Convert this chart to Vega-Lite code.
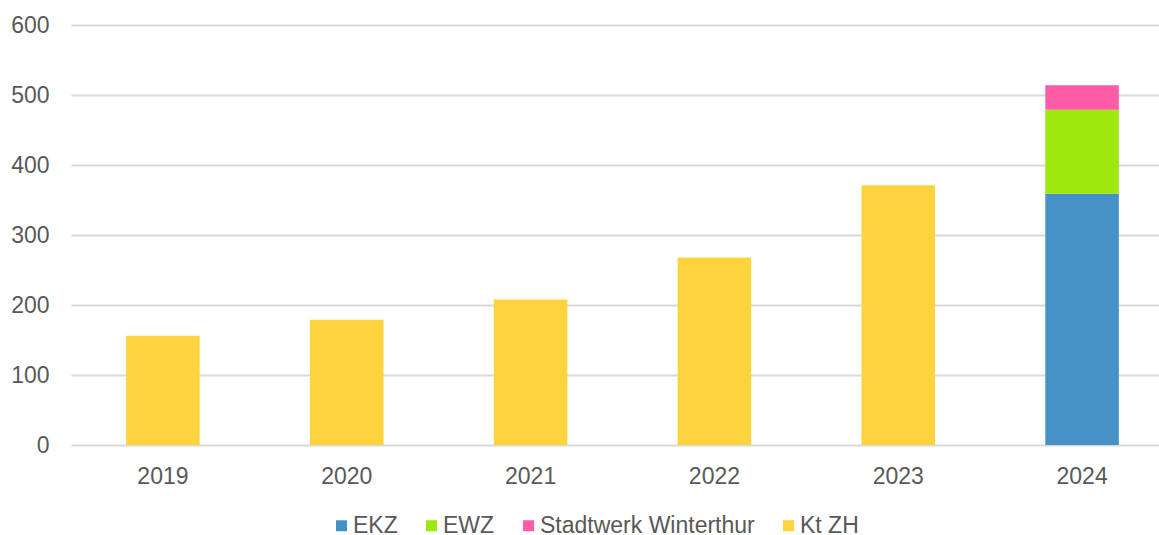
{
  "$schema": "https://vega.github.io/schema/vega-lite/v6.json",
  "width": 1088,
  "height": 420,
  "autosize": {"type": "none"},
  "padding": {"left": 71, "top": 25, "right": 0, "bottom": 90},
  "background": "white",
  "config": {
    "view": {"stroke": null},
    "font": "Liberation Sans"
  },
  "data": {
    "values": [
      {"year": "2019", "provider": "Kt ZH", "value": 156},
      {"year": "2020", "provider": "Kt ZH", "value": 179},
      {"year": "2021", "provider": "Kt ZH", "value": 208},
      {"year": "2022", "provider": "Kt ZH", "value": 268},
      {"year": "2023", "provider": "Kt ZH", "value": 371},
      {"year": "2024", "provider": "EKZ", "value": 359},
      {"year": "2024", "provider": "EWZ", "value": 120},
      {"year": "2024", "provider": "Stadtwerk Winterthur", "value": 35}
    ]
  },
  "mark": {"type": "bar"},
  "encoding": {
    "x": {
      "field": "year",
      "type": "ordinal",
      "title": null,
      "scale": {"range": [0, 1103], "paddingInner": 0.6, "paddingOuter": 0.3},
      "axis": {
        "labelAngle": 0,
        "labelFontSize": 23,
        "labelColor": "#595959",
        "labelPadding": 20,
        "ticks": false,
        "domain": false,
        "grid": false
      }
    },
    "y": {
      "field": "value",
      "type": "quantitative",
      "aggregate": "sum",
      "title": null,
      "stack": "zero",
      "scale": {"domain": [0, 600], "nice": false},
      "axis": {
        "values": [0, 100, 200, 300, 400, 500, 600],
        "labelFontSize": 23,
        "labelColor": "#595959",
        "labelPadding": 22,
        "ticks": false,
        "domain": false,
        "gridColor": "#d9d9d9",
        "gridWidth": 2
      }
    },
    "color": {
      "field": "provider",
      "type": "nominal",
      "scale": {
        "domain": ["EKZ", "EWZ", "Stadtwerk Winterthur", "Kt ZH"],
        "range": ["#4592c6", "#9ee80c", "#ff5ca8", "#fed33c"]
      },
      "legend": {
        "title": null,
        "orient": "none",
        "direction": "horizontal",
        "legendX": 259,
        "legendY": 489,
        "symbolType": "square",
        "symbolSize": 121,
        "symbolStrokeWidth": 0,
        "labelFontSize": 23,
        "labelColor": "#595959",
        "labelOffset": 0,
        "labelLimit": 400,
        "columnPadding": 22
      }
    },
    "order": {"field": "provider", "sort": "ascending"}
  }
}
